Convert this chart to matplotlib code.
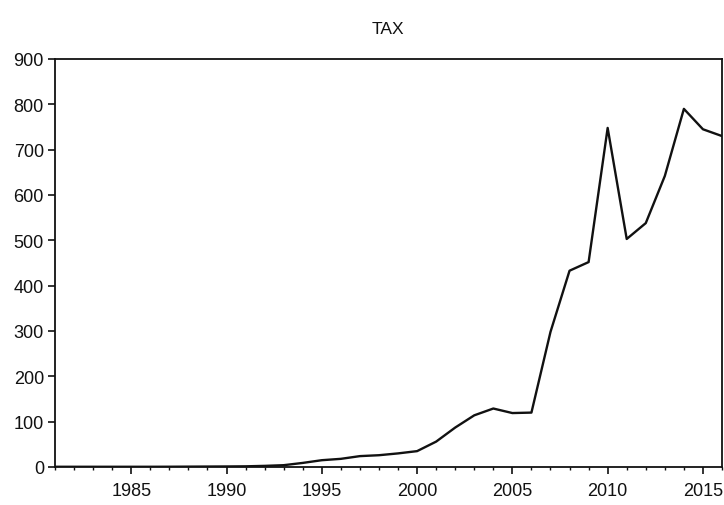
import matplotlib
matplotlib.use("Agg")
import matplotlib.pyplot as plt
from matplotlib.ticker import MultipleLocator

plt.rcParams['font.family'] = ['Liberation Sans', 'DejaVu Sans']

years = list(range(1981, 2017))
tax = [0.5, 0.5, 0.5, 0.5, 0.5, 0.5, 0.6, 0.8, 1.0, 1.2, 1.5, 2.5, 4.0,
       9, 15, 18, 24, 26, 30, 35, 56, 87, 114, 129, 119, 120,
       298, 433, 452, 748, 503, 538, 642, 790, 745, 730]

title = "TAX"
y_ticks = [0, 100, 200, 300, 400, 500, 600, 700, 800, 900]
x_major = [1985, 1990, 1995, 2000, 2005, 2010, 2015]

fig = plt.figure(figsize=(7.24, 5.06), dpi=100)
ax = fig.add_axes([55/724, 1 - 468/506, (722 - 55)/724, (468 - 60)/506])

ax.plot(years, tax, color='#111111', linewidth=1.7)

ax.set_xlim(1981, 2016)
ax.set_ylim(0, 900)
ax.set_yticks(y_ticks)
ax.set_xticks(x_major)
ax.xaxis.set_minor_locator(MultipleLocator(1))

for s in ax.spines.values():
    s.set_linewidth(1.3)
    s.set_color('#111111')

ax.tick_params(axis='x', which='major', direction='out', length=5, width=1.2,
               pad=6, labelsize=13, colors='#111111')
ax.tick_params(axis='x', which='minor', direction='out', length=2.5, width=1.0,
               colors='#111111')
ax.tick_params(axis='y', which='major', direction='out', length=5, width=1.2,
               pad=3, labelsize=13, colors='#111111')

fig.text(388/724, 1 - 30/506, title, ha='center', va='center', fontsize=12.5,
         color='#111111')

fig.savefig("out.png", dpi=100, facecolor='white')
